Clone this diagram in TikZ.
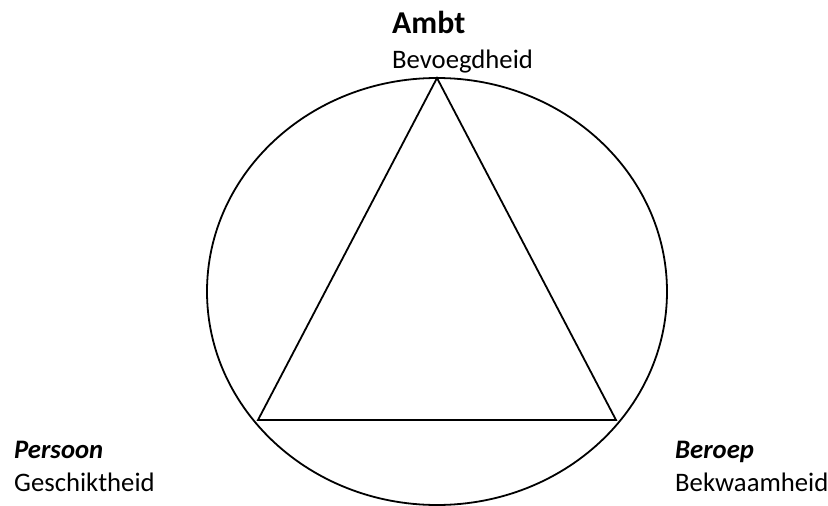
\documentclass[tikz,border=0pt]{standalone}
\usepackage{fontspec}
\setmainfont{Carlito}
\usepackage{tikz}
\usetikzlibrary{positioning}

\begin{document}
\begin{tikzpicture}[
  x=1pt, y=-1pt,
  font=\fontsize{26.7}{32}\selectfont,
  outline/.style={draw=black, line width=1.8pt},
  title/.style={inner sep=0pt, anchor=base west, font=\fontsize{31.8}{38}\selectfont\bfseries},
  corner/.style={inner sep=0pt, anchor=base west, font=\fontsize{26.7}{32}\selectfont\bfseries\itshape},
  caption/.style={inner sep=0pt, anchor=base west}
]
  \useasboundingbox (0,0) rectangle (828,506);

  % vertices of the triangle
  \coordinate (top) at (437,78);
  \coordinate (left) at (258,420);
  \coordinate (right) at (616,420);

  \draw[outline] (437,291.5) ellipse [x radius=230, y radius=213.5];
  \draw[outline, line join=miter] (top) -- (right) -- (left) -- cycle;

  \node[title] (ambt) at (392,33) {Ambt};
  \node[caption] (bevoegd) at (392,68) {Bevoegdheid};

  \node[corner] (persoon) at (14,458) {Persoon};
  \node[caption] (geschikt) at (14,491) {Geschiktheid};

  \node[corner] (beroep) at (675,458) {Beroep};
  \node[caption] (bekwaam) at (675,491) {Bekwaamheid};
\end{tikzpicture}
\end{document}
